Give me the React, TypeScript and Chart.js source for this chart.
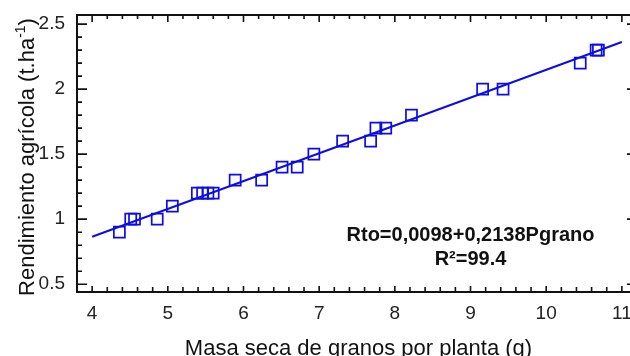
import { useEffect, useRef } from 'react';
import { Chart, registerables } from 'chart.js';

Chart.register(...registerables);

// ---- Data ----
const masaSeca = [4.36, 4.51, 4.56, 4.86, 5.06, 5.39, 5.46, 5.53, 5.6, 5.89, 6.24, 6.51, 6.71, 6.93, 7.31, 7.68, 7.75, 7.88, 8.22, 9.16, 9.43, 10.45, 10.66, 10.69];
const rendimiento = [0.9, 1.0, 1.0, 1.0, 1.1, 1.2, 1.2, 1.2, 1.2, 1.3, 1.3, 1.4, 1.4, 1.5, 1.6, 1.6, 1.7, 1.7, 1.8, 2.0, 2.0, 2.2, 2.3, 2.3];
const fitX = [4, 11];
const fitY = [0.865, 2.362];
const xTickValues = [4, 5, 6, 7, 8, 9, 10, 11];
const yTickValues = [0.5, 1, 1.5, 2, 2.5];
const xTitle = 'Masa seca de granos por planta (g)';
const yTitleMain = 'Rendimiento agrícola (t.ha';
const yTitleSup = '-1';
const yTitleEnd = ')';
const equationText = 'Rto=0,0098+0,2138Pgrano';
const r2Text = 'R²=99.4';
const annotationX = 9.0;
const equationY = 0.83;
const r2Y = 0.645;

const FONT = '"Liberation Sans", Arial, Helvetica, sans-serif';
const BLUE = 'rgb(12,12,230)';

const framePlugin = {
  id: 'frame',
  afterDraw(chart: any) {
    const { ctx, chartArea: a, scales } = chart;
    const x = scales.x;
    const y = scales.y;
    ctx.save();
    ctx.strokeStyle = '#111';
    ctx.lineWidth = 2;
    ctx.beginPath();
    ctx.moveTo(a.left, a.top);
    ctx.lineTo(a.right, a.top);
    ctx.moveTo(a.left, a.top - 1);
    ctx.lineTo(a.left, a.bottom + 1);
    ctx.moveTo(a.left, a.bottom);
    ctx.lineTo(a.right, a.bottom);
    ctx.moveTo(a.right, a.top);
    ctx.lineTo(a.right, a.bottom);
    ctx.stroke();

    ctx.lineWidth = 1.6;
    ctx.beginPath();
    // x ticks (minor every 0.2)
    const xs = Math.ceil(x.min / 0.2 - 1e-6);
    const xe = Math.floor(x.max / 0.2 + 1e-6);
    for (let i = xs; i <= xe; i++) {
      const v = i * 0.2;
      const px = x.getPixelForValue(v);
      if (px <= a.left + 1 || px >= a.right - 1) continue;
      const major = Math.abs(v - Math.round(v)) < 1e-6;
      const lb = major ? 6 : 5;
      const lt = major ? 7 : 4;
      ctx.moveTo(px, a.bottom);
      ctx.lineTo(px, a.bottom - lb);
      ctx.moveTo(px, a.top);
      ctx.lineTo(px, a.top + lt);
    }
    // y ticks (minor every 0.1)
    const ys = Math.ceil(y.min / 0.1 - 1e-6);
    const ye = Math.floor(y.max / 0.1 + 1e-6);
    for (let i = ys; i <= ye; i++) {
      const v = i * 0.1;
      const py = y.getPixelForValue(v);
      if (py >= a.bottom - 1 || py <= a.top + 1) continue;
      const major = Math.abs(v * 2 - Math.round(v * 2)) < 1e-6;
      const l = major ? 10 : 5;
      ctx.moveTo(a.left, py);
      ctx.lineTo(a.left + l, py);
      ctx.moveTo(a.right, py);
      ctx.lineTo(a.right - l, py);
    }
    ctx.stroke();

    // annotation
    ctx.fillStyle = '#111';
    ctx.textAlign = 'center';
    ctx.textBaseline = 'alphabetic';
    ctx.font = `bold 20px ${FONT}`;
    const ax = x.getPixelForValue(annotationX);
    ctx.fillText(equationText, ax, y.getPixelForValue(equationY));
    ctx.fillText(r2Text, ax, y.getPixelForValue(r2Y));

    // x title
    ctx.font = `22px ${FONT}`;
    ctx.fillStyle = '#111';
    ctx.fillText(xTitle, 358.5, 355);

    // y title with superscript
    ctx.save();
    ctx.translate(34, 157);
    ctx.rotate(-Math.PI / 2);
    ctx.textAlign = 'left';
    const mainFont = `22px ${FONT}`;
    const supFont = `14px ${FONT}`;
    ctx.font = mainFont;
    const w1 = ctx.measureText(yTitleMain).width;
    const w3 = ctx.measureText(yTitleEnd).width;
    ctx.font = supFont;
    const w2 = ctx.measureText(yTitleSup).width;
    const total = w1 + w2 + w3;
    let cx = -total / 2;
    ctx.font = mainFont;
    ctx.fillText(yTitleMain, cx, 0);
    cx += w1;
    ctx.font = supFont;
    ctx.fillText(yTitleSup, cx, -9);
    cx += w2;
    ctx.font = mainFont;
    ctx.fillText(yTitleEnd, cx, 0);
    ctx.restore();

    ctx.restore();
  },
};

export default function App() {
  const ref = useRef<HTMLCanvasElement | null>(null);
  useEffect(() => {
    if (!ref.current) return;
    const chart = new Chart(ref.current, {
      type: 'scatter',
      data: {
        datasets: [
          {
            label: 'Rendimiento',
            data: masaSeca.map((v, i) => ({ x: v, y: rendimiento[i] })),
            pointStyle: 'rect',
            pointRadius: 7.8,
            pointBorderWidth: 1.7,
            pointBackgroundColor: 'rgba(0,0,0,0)',
            pointBorderColor: BLUE,
            showLine: false,
            order: 2,
          },
          {
            label: 'Ajuste',
            data: fitX.map((v, i) => ({ x: v, y: fitY[i] })),
            showLine: true,
            borderColor: BLUE,
            borderWidth: 2,
            pointRadius: 0,
            fill: false,
            order: 1,
          },
        ],
      },
      options: {
        responsive: false,
        animation: false,
        devicePixelRatio: 1,
        layout: { autoPadding: false, padding: { left: 0, top: 15, right: 3, bottom: 0 } },
        plugins: {
          legend: { display: false },
          tooltip: { enabled: false },
          title: { display: false },
        },
        scales: {
          x: {
            type: 'linear',
            min: 3.8,
            max: 11.2,
            grid: { display: false, drawTicks: false },
            border: { display: false },
            afterBuildTicks: (s: any) => {
              s.ticks = xTickValues.map((v) => ({ value: v }));
            },
            afterFit: (s: any) => {
              s.height = 64;
              s.paddingLeft = 0;
              s.paddingRight = 0;
            },
            ticks: {
              padding: 10,
              autoSkip: false,
              maxRotation: 0,
              color: '#222',
              font: { family: FONT, size: 19 },
              callback: (v: any) => String(v),
            },
          },
          y: {
            type: 'linear',
            min: 0.44,
            max: 2.57,
            grid: { display: false, drawTicks: false },
            border: { display: false },
            afterBuildTicks: (s: any) => {
              s.ticks = yTickValues.map((v) => ({ value: v }));
            },
            afterFit: (s: any) => {
              s.width = 77;
              s.paddingTop = 0;
              s.paddingBottom = 0;
            },
            ticks: {
              padding: 12,
              autoSkip: false,
              color: '#222',
              font: { family: FONT, size: 19 },
              callback: (v: any) => String(v),
            },
          },
        },
      },
      plugins: [framePlugin],
    } as any);
    return () => chart.destroy();
  }, []);

  return (
    <div style={{ position: 'absolute', left: 0, top: 0, width: 630, height: 356, overflow: 'hidden', background: '#fff' }}>
      <canvas ref={ref} width={640} height={356} style={{ display: 'block' }} />
    </div>
  );
}
